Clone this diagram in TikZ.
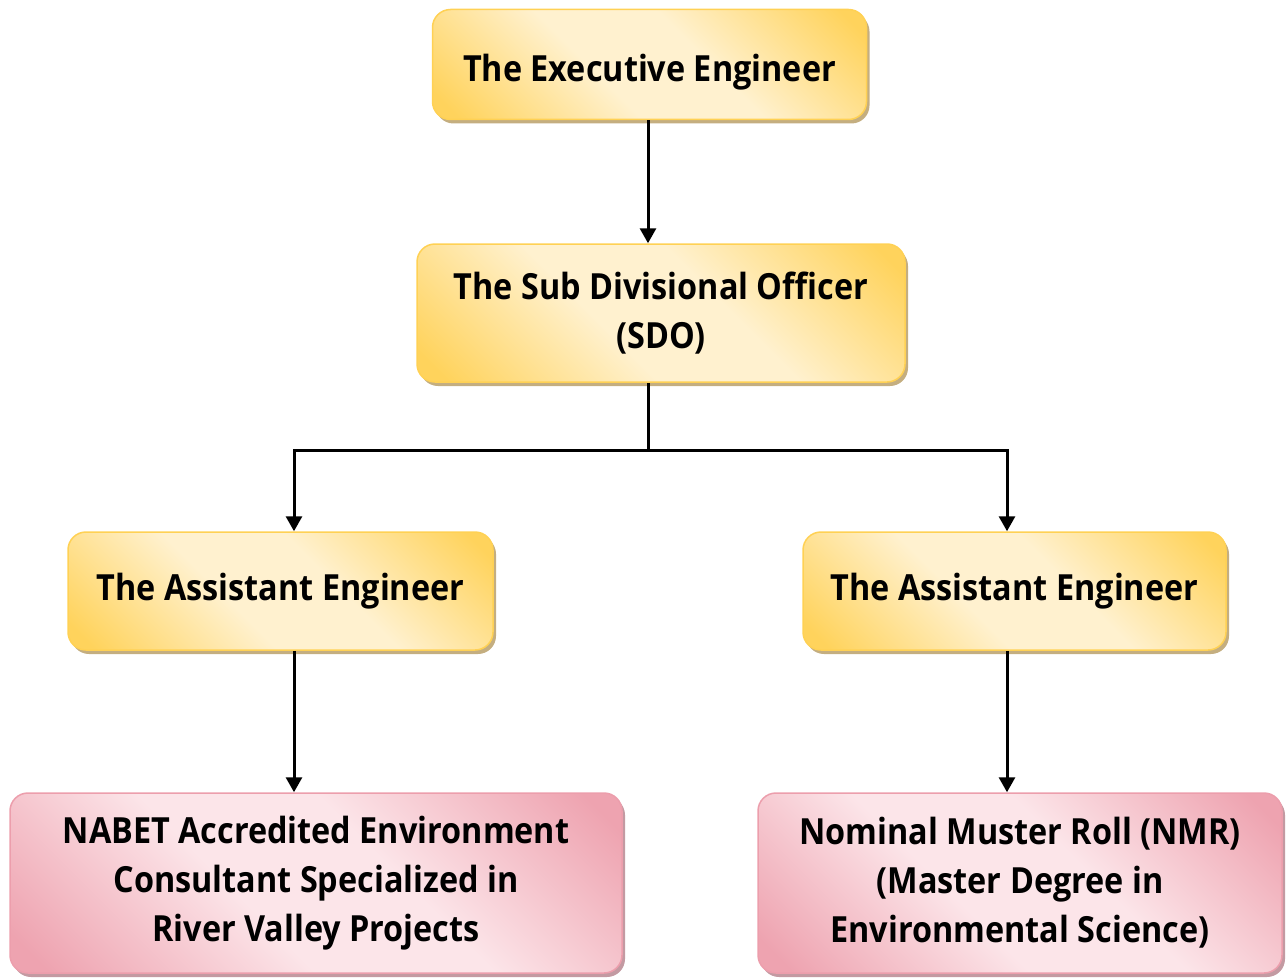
\documentclass[tikz,border=0pt]{standalone}
\usepackage{fontspec}
\setmainfont{Open Sans}[FakeStretch=0.9]
\usetikzlibrary{arrows.meta,shadows}
\definecolor{ydark}{HTML}{FFD35C}
\definecolor{ylight}{HTML}{FFF1CF}
\definecolor{yborder}{HTML}{FFD154}
\definecolor{yshadow}{HTML}{C4AE80}
\definecolor{pdark}{HTML}{EEA3B0}
\definecolor{plight}{HTML}{FCE5E9}
\definecolor{pborder}{HTML}{EC9EAC}
\definecolor{pshadow}{HTML}{C39AA2}
\pgfdeclarehorizontalshading{yshade}{100bp}{color(0bp)=(ydark); color(18bp)=(ydark); color(42bp)=(ylight); color(58bp)=(ylight); color(82bp)=(ydark); color(100bp)=(ydark)}
\pgfdeclarehorizontalshading{pshade}{100bp}{color(0bp)=(pdark); color(18bp)=(pdark); color(42bp)=(plight); color(58bp)=(plight); color(82bp)=(pdark); color(100bp)=(pdark)}
\tikzset{
  box/.style={rounded corners=18pt, line width=1.5pt, align=center, inner sep=0pt,
    font=\bfseries\fontsize{36}{49}\selectfont},
  ybox/.style={box, draw=yborder, shading=yshade, shading angle=45,
    drop shadow={shadow xshift=3pt, shadow yshift=-4pt, fill=yshadow, opacity=1}},
  pbox/.style={box, draw=pborder, shading=pshade, shading angle=45,
    drop shadow={shadow xshift=3pt, shadow yshift=-4pt, fill=pshadow, opacity=1}},
  arr/.style={line width=3pt, -{Triangle[width=16pt,length=15pt]}},
  ln/.style={line width=3pt}
}
\begin{document}
\begin{tikzpicture}[x=1pt,y=-1pt]
\useasboundingbox (0,0) rectangle (1287,979);
\node[ybox, minimum width=434pt, minimum height=110pt] (ex) at (649.5,64.5) {\raisebox{-8pt}[\height][\depth]{The Executive Engineer}};
\node[ybox, minimum width=488pt, minimum height=138pt] (sdo) at (661,313) {The Sub Divisional Officer\\(SDO)};
\node[ybox, minimum width=425pt, minimum height=118pt] (ael) at (280.5,591) {The Assistant Engineer};
\node[ybox, minimum width=423pt, minimum height=118pt] (aer) at (1014.5,591) {The Assistant Engineer};
\node[pbox, minimum width=612pt, minimum height=180pt] (nab) at (316,883) {NABET Accredited Environment\\Consultant Specialized in\\River Valley Projects};
\node[pbox, minimum width=524pt, minimum height=180pt] (nmr) at (1020,883) {Nominal Muster Roll (NMR)\\(Master Degree in\\Environmental Science)};
\coordinate (jn) at (648,450);
\coordinate (jl) at (294,450);
\coordinate (jr) at (1007,450);
\draw[arr] (ex.south -| jn) -- (sdo.north -| jn);
\draw[ln] (sdo.south -| jn) -- (jn);
\draw[arr] (jn) -- (jl) -- (ael.north -| jl);
\draw[arr] (jn) -- (jr) -- (aer.north -| jr);
\draw[arr] (ael.south -| jl) -- (nab.north -| jl);
\draw[arr] (aer.south -| jr) -- (nmr.north -| jr);
\end{tikzpicture}
\end{document}
